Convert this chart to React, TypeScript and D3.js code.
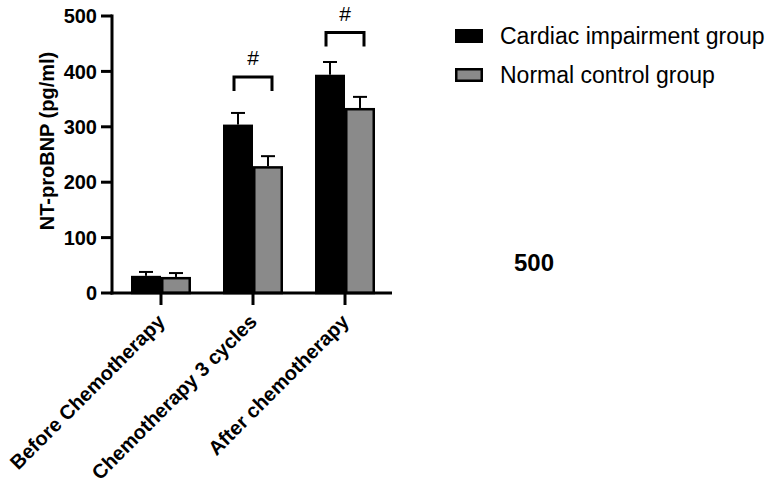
import React from "react";
import * as d3 from "d3";

const categories = ["Before Chemotherapy", "Chemotherapy 3 cycles", "After chemotherapy"];
const seriesNames = ["Cardiac impairment group", "Normal control group"];
const cardiacMean = [31, 304, 394];
const cardiacErr = [7, 21, 23];
const normalMean = [29, 229, 334];
const normalErr = [7, 18, 20];
const yTicks = [0, 100, 200, 300, 400, 500];
const sigGroups = ["Chemotherapy 3 cycles", "After chemotherapy"];
const sigBracketValue = [390, 470];
const sigLabel = "#";
const strayLabel = "500";

const W = 765;
const H = 488;
const FONT = "Liberation Sans, Arial, Helvetica, sans-serif";
const colors = ["#000000", "#8a8a8a"];

export default function App() {
  const x0 = d3.scaleBand<string>().domain(categories).range([112, 394]).paddingInner(0.348).paddingOuter(0.2065);
  const x1 = d3.scaleBand<number>().domain([0, 1]).range([0, x0.bandwidth()]);
  const y = d3.scaleLinear().domain([0, 500]).range([293, 16]);
  const means = [cardiacMean, normalMean];
  const errs = [cardiacErr, normalErr];
  const bw = x1.bandwidth();
  const cap = 7;

  return (
    <svg width={W} height={H} style={{ position: "absolute", left: 0, top: 0, background: "#fff" }}>
      <rect x={0} y={0} width={W} height={H} fill="#fff" />
      {/* bars */}
      {categories.map((c, i) => (
        <g key={c}>
          {[0, 1].map((s) => {
            const bx = (x0(c) as number) + (x1(s) as number);
            const top = y(means[s][i]);
            const cx = bx + bw / 2;
            const et = y(means[s][i] + errs[s][i]);
            return (
              <g key={s}>
                <line x1={cx} x2={cx} y1={top} y2={et} stroke="#000" strokeWidth={2} />
                <line x1={cx - cap} x2={cx + cap} y1={et} y2={et} stroke="#000" strokeWidth={2} />
                <rect
                  x={bx + 1.25}
                  y={top + 1.25}
                  width={bw - 2.5}
                  height={y(0) - top - 1.25}
                  fill={colors[s]}
                  stroke="#000"
                  strokeWidth={2.5}
                />
              </g>
            );
          })}
        </g>
      ))}
      {/* significance brackets */}
      {sigGroups.map((g, k) => {
        const cxa = (x0(g) as number) + (x1(0) as number) + bw / 2 - 4;
        const cxb = (x0(g) as number) + (x1(1) as number) + bw / 2 + 4;
        const by = y(sigBracketValue[k]);
        const mid = (cxa + cxb) / 2;
        return (
          <g key={g}>
            <path
              d={`M${cxa},${by + 14} L${cxa},${by} L${cxb},${by} L${cxb},${by + 14}`}
              fill="none"
              stroke="#000"
              strokeWidth={3}
            />
            <text x={mid} y={by - 12} textAnchor="middle" fontFamily={FONT} fontSize={21} fill="#000">
              {sigLabel}
            </text>
          </g>
        );
      })}
      {/* y axis */}
      <line x1={112} x2={112} y1={y(500) - 1.5} y2={y(0) + 1.5} stroke="#000" strokeWidth={3} />
      {yTicks.map((t) => (
        <g key={t}>
          <line x1={101} x2={112} y1={y(t)} y2={y(t)} stroke="#000" strokeWidth={3} />
          <text
            x={97}
            y={y(t)}
            dy="0.36em"
            textAnchor="end"
            fontFamily={FONT}
            fontWeight="bold"
            fontSize={20}
            fill="#000"
          >
            {t}
          </text>
        </g>
      ))}
      <text
        transform={`translate(54, ${141}) rotate(-90)`}
        textAnchor="middle"
        fontFamily={FONT}
        fontWeight="bold"
        fontSize={20}
        fill="#000"
      >
        NT-proBNP (pg/ml)
      </text>
      {/* x axis */}
      <line x1={110.5} x2={392} y1={y(0)} y2={y(0)} stroke="#000" strokeWidth={3} />
      {categories.map((c) => {
        const cx = (x0(c) as number) + x0.bandwidth() / 2;
        return (
          <g key={c}>
            <line x1={cx} x2={cx} y1={y(0)} y2={y(0) + 12} stroke="#000" strokeWidth={3} />
            <text
              transform={`translate(${cx + 5}, ${323}) rotate(-45)`}
              textAnchor="end"
              fontFamily={FONT}
              fontWeight="bold"
              fontSize={20}
              fill="#000"
            >
              {c}
            </text>
          </g>
        );
      })}
      {/* legend */}
      {seriesNames.map((n, s) => (
        <g key={n} transform={`translate(455, ${29 + s * 39})`}>
          <rect x={1.25} y={1.25} width={25.5} height={11.5} fill={colors[s]} stroke="#000" strokeWidth={2.5} />
          <text x={45} y={7} dy="0.36em" fontFamily={FONT} fontSize={23} fill="#000">
            {n}
          </text>
        </g>
      ))}
      <text x={514} y={262} dy="0.36em" fontFamily={FONT} fontWeight="bold" fontSize={24} fill="#000">
        {strayLabel}
      </text>
    </svg>
  );
}
